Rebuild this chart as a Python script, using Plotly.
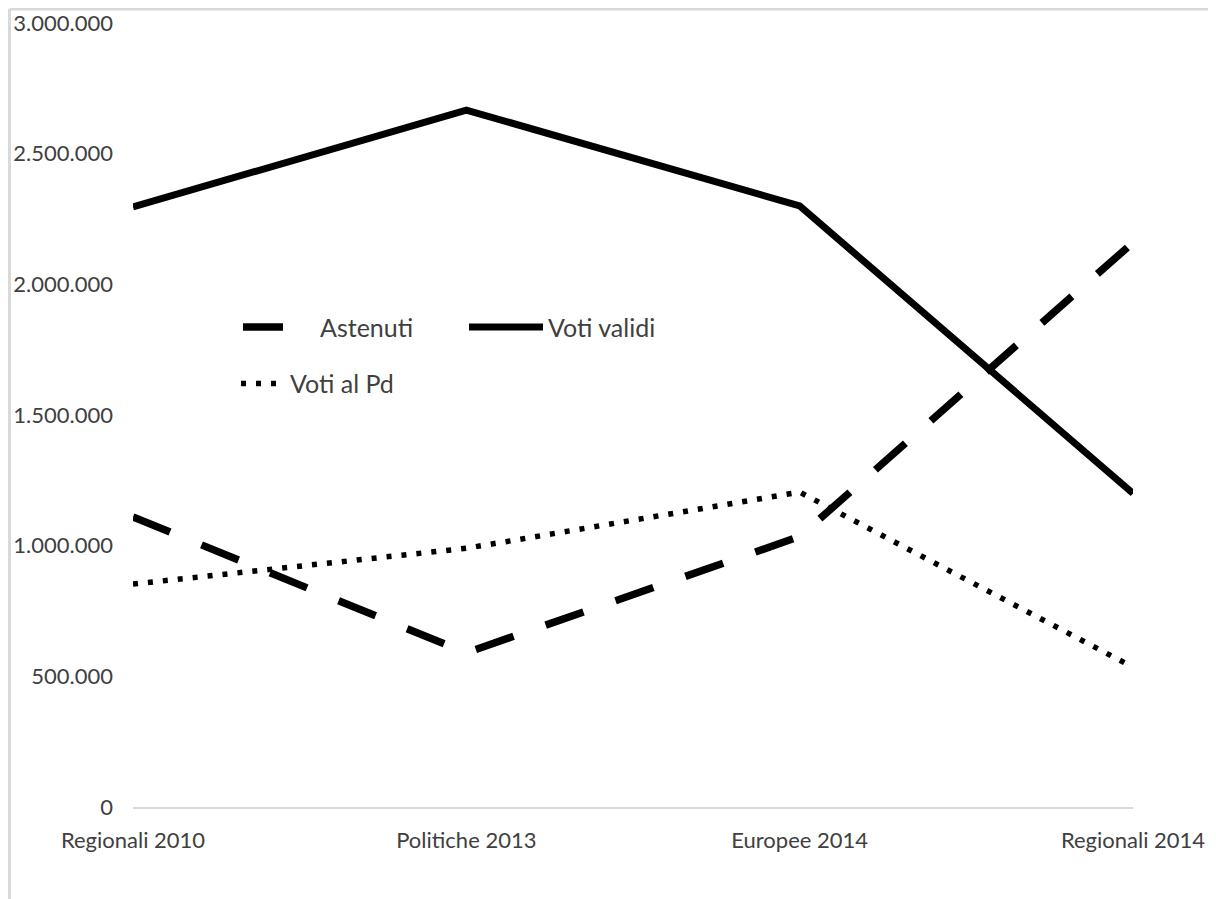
import plotly.graph_objects as go

categories = ["Regionali 2010", "Politiche 2013", "Europee 2014", "Regionali 2014"]
astenuti = [1110000, 590000, 1035000, 2160000]
voti_validi = [2296000, 2667000, 2300000, 1200000]
voti_pd = [853000, 990000, 1205000, 535000]
y_ticks = [0, 500000, 1000000, 1500000, 2000000, 2500000, 3000000]
y_tick_labels = ["0", "500.000", "1.000.000", "1.500.000", "2.000.000", "2.500.000", "3.000.000"]

FONT = "Lato"
TXT = "#404040"

fig = go.Figure()
fig.add_trace(go.Scatter(x=categories, y=astenuti, name="Astenuti", mode="lines",
                         line=dict(color="black", width=7.5, dash="40px,34px"),
                         legend="legend"))
fig.add_trace(go.Scatter(x=categories, y=voti_validi, name="Voti validi", mode="lines",
                         line=dict(color="black", width=7),
                         legend="legend3"))
fig.add_trace(go.Scatter(x=categories, y=voti_pd, name="Voti al Pd", mode="lines",
                         line=dict(color="black", width=5.5, dash="5px,10px"),
                         legend="legend2"))

leg_font = dict(family=FONT, size=25, color=TXT)
fig.update_layout(
    width=1208, height=891,
    margin=dict(l=125, r=83, t=15, b=92, autoexpand=False),
    showlegend=True,
    paper_bgcolor="white", plot_bgcolor="white",
    font=dict(family=FONT, color=TXT, size=22),
    xaxis=dict(range=[0, 3], showgrid=False, zeroline=False, showline=True, automargin=False,
               linecolor="#d9d9d9", linewidth=2, ticks="", ticklabelstandoff=13,
               tickfont=dict(family=FONT, size=22, color=TXT)),
    yaxis=dict(range=[0, 3000000], tickvals=y_ticks, ticktext=y_tick_labels, automargin=False,
               showgrid=False, zeroline=False, showline=False, ticks="",
               ticklabelstandoff=19, tickfont=dict(family=FONT, size=22, color=TXT)),
    legend=dict(orientation="h", x=0.105, y=0.612, xanchor="left", yanchor="middle",
                bgcolor="rgba(0,0,0,0)", font=leg_font, itemwidth=72, visible=True),
    legend3=dict(orientation="h", x=0.331, y=0.612, xanchor="left", yanchor="middle",
                 bgcolor="rgba(0,0,0,0)", font=leg_font, itemwidth=74, visible=True),
    legend2=dict(orientation="h", x=0.103, y=0.540, xanchor="left", yanchor="middle",
                 bgcolor="rgba(0,0,0,0)", font=leg_font, itemwidth=44, visible=True),
    shapes=[
        dict(type="line", xref="paper", yref="paper", x0=-0.1235, x1=-0.1235, y0=-0.2, y1=1.018,
             line=dict(color="#d9d9d9", width=3)),
        dict(type="line", xref="paper", yref="paper", x0=-0.1235, x1=1.2, y0=1.018, y1=1.018,
             line=dict(color="#d9d9d9", width=3)),
    ],
)

fig.write_html("out.html")
